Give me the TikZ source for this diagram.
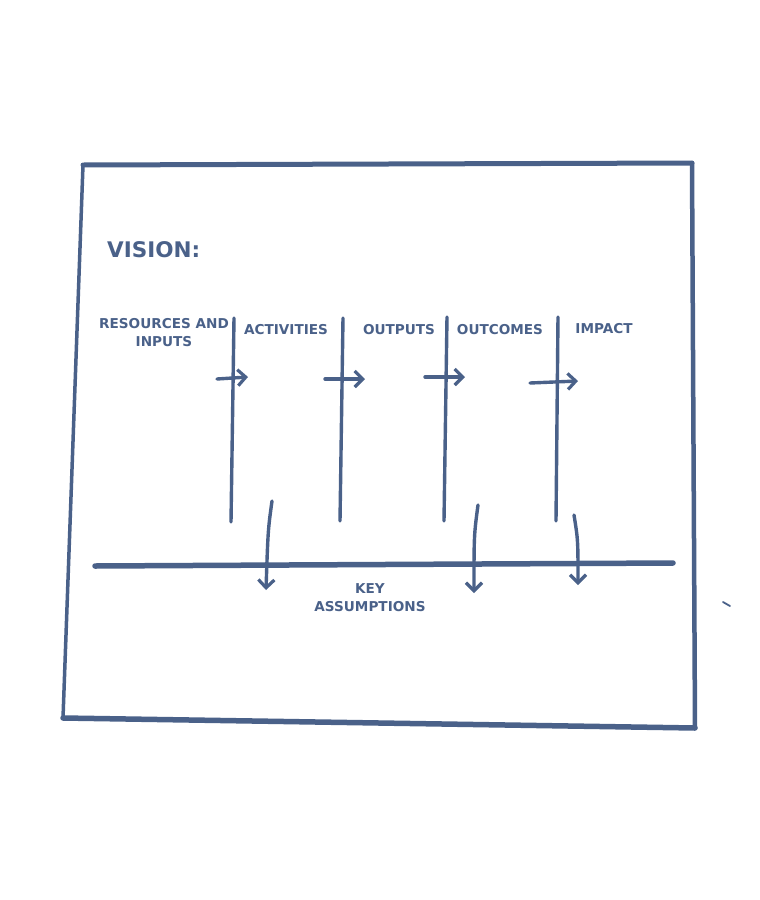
\documentclass[tikz,border=0pt]{standalone}
\usepackage{fontspec}
\setmainfont{DejaVu Sans}
\usetikzlibrary{arrows.meta}
\definecolor{ink}{HTML}{4A6189}
\tikzset{
  x=1pt, y=-1pt,
  pen/.style={draw=ink, line cap=round, line join=round},
  divider/.style={pen, line width=3.4pt},
  flow/.style={pen, line width=3.4pt, -{Straight Barb[length=8pt,width=16pt,line width=3.2pt]}},
  label/.style={text=ink, font=\bfseries\fontsize{13.6}{18}\selectfont, align=center, inner sep=0pt},
}
\begin{document}
\begin{tikzpicture}
\useasboundingbox (0,0) rectangle (760,900);

% outer frame
\draw[pen, line width=5pt] (83,165) -- (692,163);
\draw[pen, line width=4.5pt] (692,163) -- (695,728);
\draw[pen, line width=5.5pt] (695,728) -- (63,718);
\draw[pen, line width=3.5pt] (63,718) -- (83,165);

% heading
\node[label, anchor=west, font=\bfseries\fontsize{21.5}{25}\selectfont] (vision) at (107,250) {VISION:};

% column titles
\node[label] (res) at (164,333) {RESOURCES AND\\INPUTS};
\node[label] (act) at (286,330) {ACTIVITIES};
\node[label] (out) at (399,330) {OUTPUTS};
\node[label] (oc)  at (500,330) {OUTCOMES};
\node[label] (imp) at (604,329) {IMPACT};
\node[label] (key) at (370,598) {KEY\\ASSUMPTIONS};

% column dividers
\coordinate (d1t) at (234,318); \coordinate (d1b) at (231,522);
\coordinate (d2t) at (343,318); \coordinate (d2b) at (340,521);
\coordinate (d3t) at (447,317); \coordinate (d3b) at (444,521);
\coordinate (d4t) at (558,317); \coordinate (d4b) at (556,521);
\draw[divider] (d1t) -- (d1b);
\draw[divider] (d2t) -- (d2b);
\draw[divider] (d3t) -- (d3b);
\draw[divider] (d4t) -- (d4b);

% flow arrows across dividers
\coordinate (a1s) at (217,379); \coordinate (a1e) at (248,377);
\coordinate (a2s) at (325,379); \coordinate (a2e) at (365,379);
\coordinate (a3s) at (425,377); \coordinate (a3e) at (465,377);
\coordinate (a4s) at (530,383); \coordinate (a4e) at (578,381);
\draw[flow] (a1s) -- (a1e);
\draw[flow] (a2s) -- (a2e);
\draw[flow] (a3s) -- (a3e);
\draw[flow] (a4s) -- (a4e);

% assumptions baseline
\coordinate (bl) at (95,566); \coordinate (br) at (673,563);
\draw[pen, line width=5.5pt] (bl) -- (br);

% arrows down to the assumptions
\coordinate (k1s) at (272,501); \coordinate (k1e) at (266,590);
\coordinate (k2s) at (478,505); \coordinate (k2e) at (474,593);
\coordinate (k3s) at (574,515); \coordinate (k3e) at (578,585);
\draw[flow] (k1s) .. controls (268,530) .. (k1e);
\draw[flow] (k2s) .. controls (474,535) .. (k2e);
\draw[flow] (k3s) .. controls (578,540) .. (k3e);

% stray mark
\coordinate (m1) at (723,602); \coordinate (m2) at (730,606);
\draw[pen, line width=1.8pt] (m1) -- (m2);
\end{tikzpicture}
\end{document}
